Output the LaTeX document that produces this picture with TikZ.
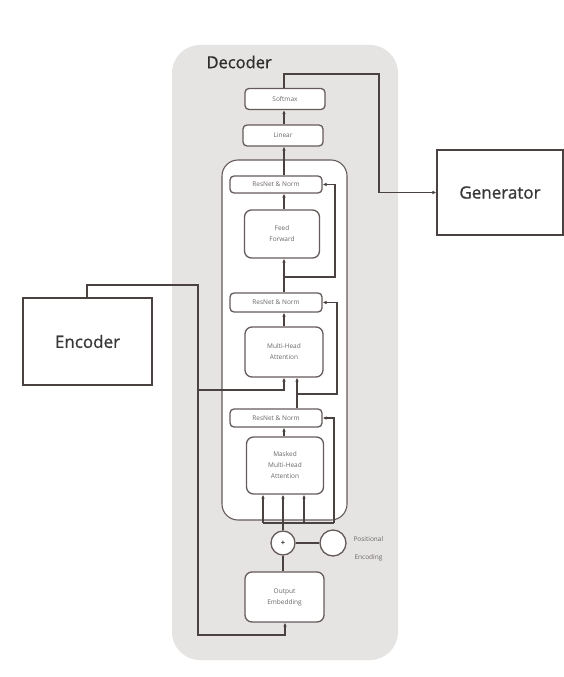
\documentclass[tikz,border=0pt]{standalone}
\usepackage{fontspec}
\setmainfont{Open Sans}
\newfontfamily\semib[FakeBold=0.9]{Open Sans}
\usetikzlibrary{arrows.meta,calc}
\definecolor{bggray}{HTML}{E6E4E2}
\definecolor{linec}{HTML}{4A4141}
\definecolor{boxc}{HTML}{655B5B}
\definecolor{txtc}{HTML}{6A6666}
\tikzset{
  arr/.style={draw=linec, line width=1.3pt, -{Latex[length=4pt,width=3.6pt]}},
  conn/.style={draw=linec, line width=1.3pt},
  blk/.style={draw=boxc, line width=1.3pt, fill=white, rounded corners=4pt, font=\fontsize{6.5}{11}\selectfont, text=txtc, align=center, inner sep=0pt},
  bigbox/.style={draw=linec, line width=1.1pt, fill=white, inner sep=0pt, font=\semib\fontsize{17}{20}\selectfont, text=black!78},
  circ/.style={draw=boxc, line width=1.3pt, fill=white, circle, inner sep=0pt}
}
\begin{document}
\begin{tikzpicture}[x=1pt,y=-1pt]
\useasboundingbox (0,0) rectangle (564,677);
\fill[white] (0,0) rectangle (564,677);
% decoder background
\fill[bggray, rounded corners=28pt] (172,45) rectangle (398,660);
\node[anchor=west, font=\semib\fontsize{16.5}{18}\selectfont, text=black!82] (dec) at (203,62) {Decoder};
% inner layer frame
\draw[boxc, line width=1.1pt, fill=white, rounded corners=16pt] (222,160) rectangle (347,520);
% blocks
\node[blk, minimum width=80pt, minimum height=21pt] (softmax) at (285,99) {Softmax};
\node[blk, minimum width=80pt, minimum height=21pt] (linear) at (283,135.5) {Linear};
\node[blk, minimum width=92pt, minimum height=17pt] (an1) at (276,184.5) {ResNet \& Norm};
\node[blk, minimum width=75pt, minimum height=48pt, rounded corners=7pt] (ff) at (282,234) {Feed\\Forward};
\node[blk, minimum width=92pt, minimum height=19pt] (an2) at (276,302.5) {ResNet \& Norm};
\node[blk, minimum width=78pt, minimum height=50pt, rounded corners=7pt] (mha) at (284,352) {Multi-Head\\Attention};
\node[blk, minimum width=92pt, minimum height=18pt] (an3) at (276,418) {ResNet \& Norm};
\node[blk, minimum width=77pt, minimum height=57pt, rounded corners=7pt] (mmha) at (285,465.5) {Masked\\Multi-Head\\Attention};
\node[circ, minimum size=24pt, font=\bfseries\fontsize{7.5}{8}\selectfont, text=black!80] (plus) at (283,543) {+};
\node[circ, minimum size=26pt] (pe) at (333,543) {};
\node[anchor=west, align=left, font=\fontsize{6.5}{18}\selectfont, text=txtc] (petxt) at (350,549) {Positional\\\,Encoding};
\node[blk, minimum width=79pt, minimum height=50pt, rounded corners=7pt] (oe) at (284.5,597) {Output\\Embedding};
\node[bigbox, minimum width=129pt, minimum height=87pt] (enc) at (87.5,341.5) {Encoder};
\node[bigbox, minimum width=126pt, minimum height=85pt] (gen) at (500,192.5) {Generator};
% coordinates
\coordinate (col) at (284,0);
\coordinate (q) at (297,0);
\coordinate (g1) at (379,74);
\coordinate (r1) at (284,277);
\coordinate (r1r) at (335,277);
\coordinate (r2) at (297,394);
\coordinate (r2r) at (337,394);
\coordinate (j) at (283,523);
\coordinate (jl) at (263,523);
\coordinate (jm) at (304,523);
\coordinate (jr) at (334,523);
\coordinate (e1) at (87,285);
\coordinate (e2) at (198,285);
\coordinate (e3) at (198,390);
\coordinate (e4) at (284,390);
\coordinate (e5) at (198,635);
\coordinate (e6) at (285,635);
% connectors
\draw[arr] (softmax.north -| col) |- (g1) |- (gen.west);
\draw[arr] (col |- linear.north) -- (col |- softmax.south);
\draw[arr] (col |- an1.north) -- (col |- linear.south);
\draw[arr] (col |- ff.north) -- (col |- an1.south);
\draw[arr] (col |- an2.north) -- (col |- ff.south);
\draw[arr] (r1) -- (r1r) |- (an1.east);
\draw[arr] (col |- mha.north) -- (col |- an2.south);
\draw[arr] (q |- an3.north) -- (q |- mha.south);
\draw[arr] (r2) -- (r2r) |- (an2.east);
\draw[arr] (col |- mmha.north) -- (col |- an3.south);
\draw[conn] (plus.north) -- (j);
\draw[conn] (jl) -- (jr);
\draw[arr] (jl) -- (jl |- mmha.south);
\draw[arr] (j) -- (j |- mmha.south);
\draw[arr] (jm) -- (jm |- mmha.south);
\draw[arr] (jr) |- (an3.east);
\draw[conn] (oe.north -| plus) -- (plus.south);
\draw[conn, line width=2pt] (plus.east) -- (pe.west);
\draw[arr] (enc.north -| e1) -- (e1) -- (e2) -- (e5) -- (e6) -- (e6 |- oe.south);
\draw[arr] (e3) -- (e4) -- (e4 |- mha.south);
\end{tikzpicture}
\end{document}
